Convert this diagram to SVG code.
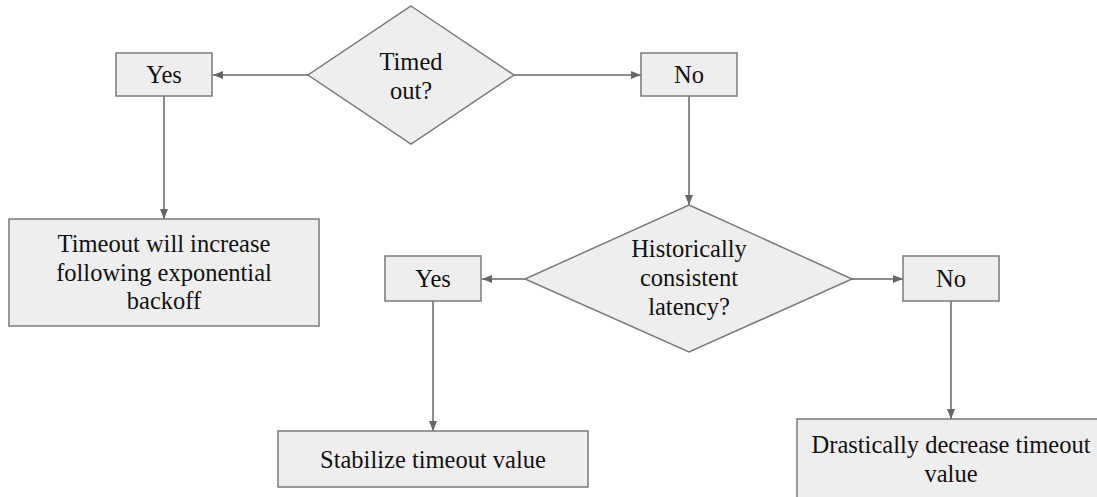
<svg xmlns="http://www.w3.org/2000/svg" width="1097" height="497" viewBox="0 0 1097 497">
<style>
.n{fill:#eeeeee;stroke:#7a7a7a;stroke-width:1.5}
.c{stroke:#666;stroke-width:1.5;fill:none;marker-end:url(#ah)}
</style>
<defs>
<marker id="ah" viewBox="0 0 10 10" refX="10" refY="5" markerWidth="10" markerHeight="10" markerUnits="userSpaceOnUse" orient="auto">
<path d="M0,1 L10,5 L0,9 Z" fill="#666"/>
</marker>
</defs>
<rect width="1097" height="497" fill="#fff"/>
<g id="connectors">
<line class="c" x1="308" y1="75" x2="213" y2="75"/>
<line class="c" x1="514" y1="75" x2="641" y2="75"/>
<line class="c" x1="689" y1="96" x2="689" y2="205"/>
<line class="c" x1="164" y1="96" x2="164" y2="219"/>
<line class="c" x1="525" y1="279" x2="482" y2="279"/>
<line class="c" x1="852" y1="279" x2="903" y2="279"/>
<line class="c" x1="433" y1="301" x2="433" y2="431"/>
<line class="c" x1="951" y1="301" x2="951" y2="419"/>
</g>
<g font-family="Liberation Serif, Tinos, Times New Roman, Times, Noto Serif, DejaVu Serif, FreeSerif, serif" font-size="24.5" fill="#111" text-anchor="middle">
<g id="d1">
<polygon class="n" points="411,6 514,75 411,144 308,75"/>
<text x="411" y="70">Timed</text>
<text x="411" y="99">out?</text>
</g>
<g id="yes1">
<rect class="n" x="116" y="53" width="96" height="43"/>
<text x="164" y="83">Yes</text>
</g>
<g id="no1">
<rect class="n" x="641" y="53" width="96" height="43"/>
<text x="689" y="83">No</text>
</g>
<g id="backoff">
<rect class="n" x="9" y="219" width="310" height="107"/>
<text x="164" y="252">Timeout will increase</text>
<text x="164" y="281">following exponential</text>
<text x="164" y="309">backoff</text>
</g>
<g id="d2">
<polygon class="n" points="689,205 852,279 689,352 525,279"/>
<text x="689" y="257">Historically</text>
<text x="689" y="286">consistent</text>
<text x="689" y="315">latency?</text>
</g>
<g id="yes2">
<rect class="n" x="385" y="256" width="96" height="45"/>
<text x="433" y="287">Yes</text>
</g>
<g id="no2">
<rect class="n" x="903" y="256" width="96" height="45"/>
<text x="951" y="287">No</text>
</g>
<g id="stabilize">
<rect class="n" x="278" y="431" width="310" height="56"/>
<text x="433" y="468">Stabilize timeout value</text>
</g>
<g id="decrease">
<rect class="n" x="797" y="419" width="310" height="107"/>
<text x="951" y="453">Drastically decrease timeout</text>
<text x="951" y="482">value</text>
</g>
</g>
</svg>
